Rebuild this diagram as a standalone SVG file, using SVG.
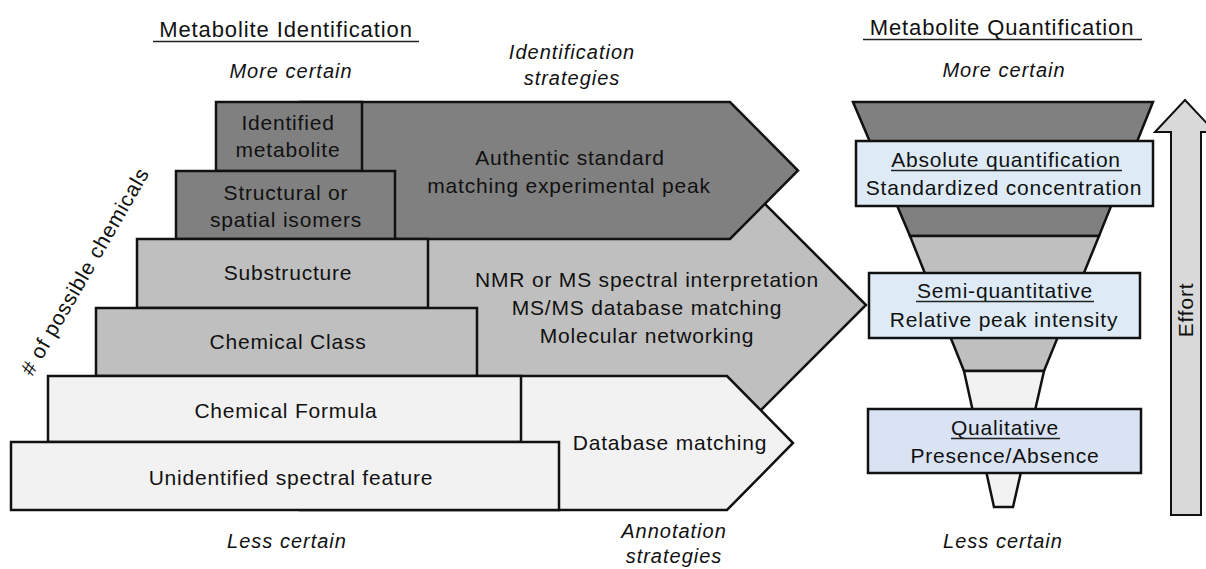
<svg xmlns="http://www.w3.org/2000/svg" width="1206" height="569" viewBox="0 0 1206 569">
<style>
.t{font-family:"Liberation Sans",Arial,sans-serif;font-size:21px;letter-spacing:0.8px;fill:#111;text-anchor:middle}
.ttl{font-family:"Liberation Sans",Arial,sans-serif;font-size:22px;letter-spacing:0.9px;fill:#111;text-anchor:middle}
.it{font-family:"Liberation Sans",Arial,sans-serif;font-size:20px;letter-spacing:1px;font-style:italic;fill:#111;text-anchor:middle}
.s{stroke:#111;stroke-width:2.5;stroke-linejoin:miter}
.dark{fill:#808080}
.mid{fill:#bfbfbf}
.light{fill:#f2f2f2}
.blue{fill:#deebf7}
.blue2{fill:#dae3f3}
.ul{stroke:#222;stroke-width:1.3}
</style>
<rect width="1206" height="569" fill="#fff"/>

<g id="labels">
<text class="ttl" x="286" y="37">Metabolite Identification</text>
<line class="ul" x1="153" y1="41.5" x2="419" y2="41.5" style="stroke-width:1.6"/>
<text class="ttl" x="1002" y="35">Metabolite Quantification</text>
<line class="ul" x1="863" y1="39.5" x2="1142" y2="39.5" style="stroke-width:1.6"/>
<text class="it" x="291" y="78">More certain</text>
<text class="it" x="572" y="59">Identification</text>
<text class="it" x="572" y="85">strategies</text>
<text class="it" x="1004" y="77">More certain</text>
<text class="it" x="287" y="548">Less certain</text>
<text class="it" x="674" y="538">Annotation</text>
<text class="it" x="674" y="563">strategies</text>
<text class="it" x="1003" y="548">Less certain</text>
<text class="t" transform="translate(91,275) rotate(-60)">#&#160;of possible chemicals</text>
</g>

<g id="connectors">
<polygon id="arrow-mid" class="s mid" points="300,198 759,198 866,305 759,412 300,412"/>
<polygon id="arrow-top" class="s dark" points="300,102 730,102 798,170.5 730,239 300,239"/>
<polygon id="arrow-bottom" class="s light" points="300,376 727,376 793,443 727,510 300,510"/>
</g>

<g id="arrow-top-label">
<text class="t" x="570" y="165">Authentic standard</text>
<text class="t" x="569" y="193">matching experimental peak</text>
</g>
<g id="arrow-mid-label">
<text class="t" x="647" y="287">NMR or MS spectral interpretation</text>
<text class="t" x="647" y="315">MS/MS database matching</text>
<text class="t" x="647" y="343">Molecular networking</text>
</g>
<g id="arrow-bottom-label">
<text class="t" x="670" y="450">Database matching</text>
</g>

<g id="identified">
<rect class="s dark" x="216" y="102" width="146" height="69"/>
<text class="t" x="288" y="130">Identified</text>
<text class="t" x="288" y="157">metabolite</text>
</g>
<g id="isomers">
<rect class="s dark" x="176" y="171" width="219" height="68"/>
<text class="t" x="286" y="200">Structural or</text>
<text class="t" x="286" y="227">spatial isomers</text>
</g>
<g id="substructure">
<rect class="s mid" x="137" y="239" width="291" height="69"/>
<text class="t" x="288" y="280">Substructure</text>
</g>
<g id="class">
<rect class="s mid" x="96" y="308" width="381" height="68"/>
<text class="t" x="288" y="349">Chemical Class</text>
</g>
<g id="formula">
<rect class="s light" x="48" y="376" width="473" height="66"/>
<text class="t" x="286" y="418">Chemical Formula</text>
</g>
<g id="unidentified">
<rect class="s light" x="11" y="442" width="548" height="68"/>
<text class="t" x="291" y="485">Unidentified spectral feature</text>
</g>

<g id="funnel">
<polygon class="s dark" points="853,102 1153,102 1099,236 910,236"/>
<polygon class="s mid" points="910,236 1099,236 1044,371 964,371"/>
<polygon class="s light" points="964,371 1044,371 1013,507 994,507"/>
</g>

<g id="absolute">
<rect class="s blue" x="856" y="141" width="297" height="65"/>
<text class="t" x="1006" y="167">Absolute quantification</text>
<line class="ul" x1="891" y1="170.5" x2="1122" y2="170.5"/>
<text class="t" x="1004" y="195">Standardized concentration</text>
</g>
<g id="semi">
<rect class="s blue" x="869" y="273" width="271" height="65"/>
<text class="t" x="1005" y="298">Semi-quantitative</text>
<line class="ul" x1="916" y1="301.5" x2="1094" y2="301.5"/>
<text class="t" x="1004" y="327">Relative peak intensity</text>
</g>
<g id="qualitative">
<rect class="s blue2" x="868" y="409" width="273" height="64"/>
<text class="t" x="1005" y="435">Qualitative</text>
<line class="ul" x1="951" y1="438.5" x2="1060" y2="438.5"/>
<text class="t" x="1005" y="463">Presence/Absence</text>
</g>

<g id="effort">
<polygon points="1185,100 1215,132 1201,132 1201,515 1171,515 1171,132 1155,132" fill="#d9d9d9" stroke="#111" stroke-width="2"/>
<text class="t" transform="translate(1193,310) rotate(-90)">Effort</text>
</g>
</svg>
